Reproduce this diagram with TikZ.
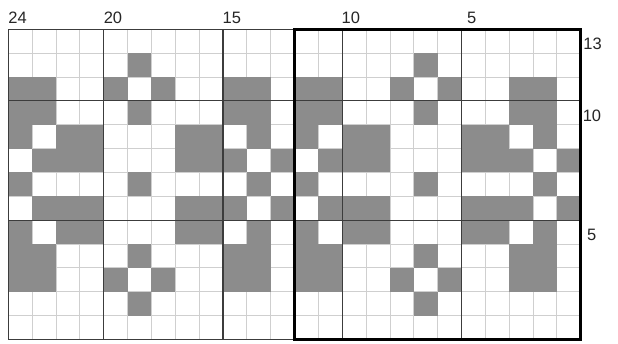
\documentclass[tikz,border=0pt]{standalone}
\usepackage{fontspec}
\setmainfont{Liberation Sans}
\definecolor{cellgray}{HTML}{8C8C8C}
\definecolor{gridlight}{HTML}{CFCFCF}
\definecolor{griddark}{HTML}{3C3C3C}
\tikzset{
  cell/.style={fill=cellgray},
  thinline/.style={draw=gridlight, line width=0.8pt},
  darkline/.style={draw=griddark, line width=1.1pt},
  boxline/.style={draw=black, line width=2.6pt},
  numlabel/.style={inner sep=0pt, font=\fontsize{16.5}{18}\selectfont, text=black!85}
}
\begin{document}
\begin{tikzpicture}[x=1pt, y=-1pt]
\useasboundingbox (0,0) rectangle (618,343);
\fill[white] (0,0) rectangle (618,343);
\def\xo{8.3}
\def\yo{29.3}
\def\s{23.85}
% light grid
\foreach \k in {1,...,23} {
  \draw[thinline] ({\xo+\k*\s},\yo) -- ({\xo+\k*\s},{\yo+13*\s});
}
\foreach \k in {1,...,12} {
  \draw[thinline] (\xo,{\yo+\k*\s}) -- ({\xo+24*\s},{\yo+\k*\s});
}
% gray stitches (one 12-stitch repeat, drawn twice)
\foreach \j/\cols in {2/{6}, 3/{1,2,5,7,10,11}, 4/{1,2,6,10,11}, 5/{1,3,4,8,9,11},
                      6/{2,3,4,8,9,10,12}, 7/{1,6,11}, 8/{2,3,4,8,9,10,12},
                      9/{1,3,4,8,9,11}, 10/{1,2,6,10,11}, 11/{1,2,5,7,10,11}, 12/{6}} {
  \foreach \c in \cols {
    \foreach \r in {0,12} {
      \fill[cell] ({\xo+(\c+\r-1)*\s},{\yo+(\j-1)*\s}) rectangle +(\s,\s);
    }
  }
}
% darker guide lines every 5 stitches / rows
\foreach \k in {4,9,14,19} {
  \draw[darkline] ({\xo+\k*\s},\yo) -- ({\xo+\k*\s},{\yo+13*\s});
}
\foreach \k in {3,8} {
  \draw[darkline] (\xo,{\yo+\k*\s}) -- ({\xo+24*\s},{\yo+\k*\s});
}
% outer frame of the left part
\draw[darkline] ({\xo+12*\s},\yo) -- (\xo,\yo) -- (\xo,{\yo+13*\s}) -- ({\xo+12*\s},{\yo+13*\s});
% thick box round the repeat
\draw[boxline] ({\xo+12*\s},\yo) rectangle ({\xo+24*\s},{\yo+13*\s});
% stitch numbers
\node[numlabel, anchor=base west] (n24) at (8.3,23.3) {24};
\node[numlabel, anchor=base west] (n20) at (103.6,23.3) {20};
\node[numlabel, anchor=base west] (n15) at (222.4,23.3) {15};
\node[numlabel, anchor=base west] (n10) at (341.4,23.3) {10};
\node[numlabel, anchor=base west] (n5) at (467.0,23.3) {5};
% row numbers
\node[numlabel, anchor=base west] (r13) at (583.2,49.0) {13};
\node[numlabel, anchor=base west] (r10) at (582.6,121.0) {10};
\node[numlabel, anchor=base west] (r5) at (587.0,240.7) {5};
\end{tikzpicture}
\end{document}
